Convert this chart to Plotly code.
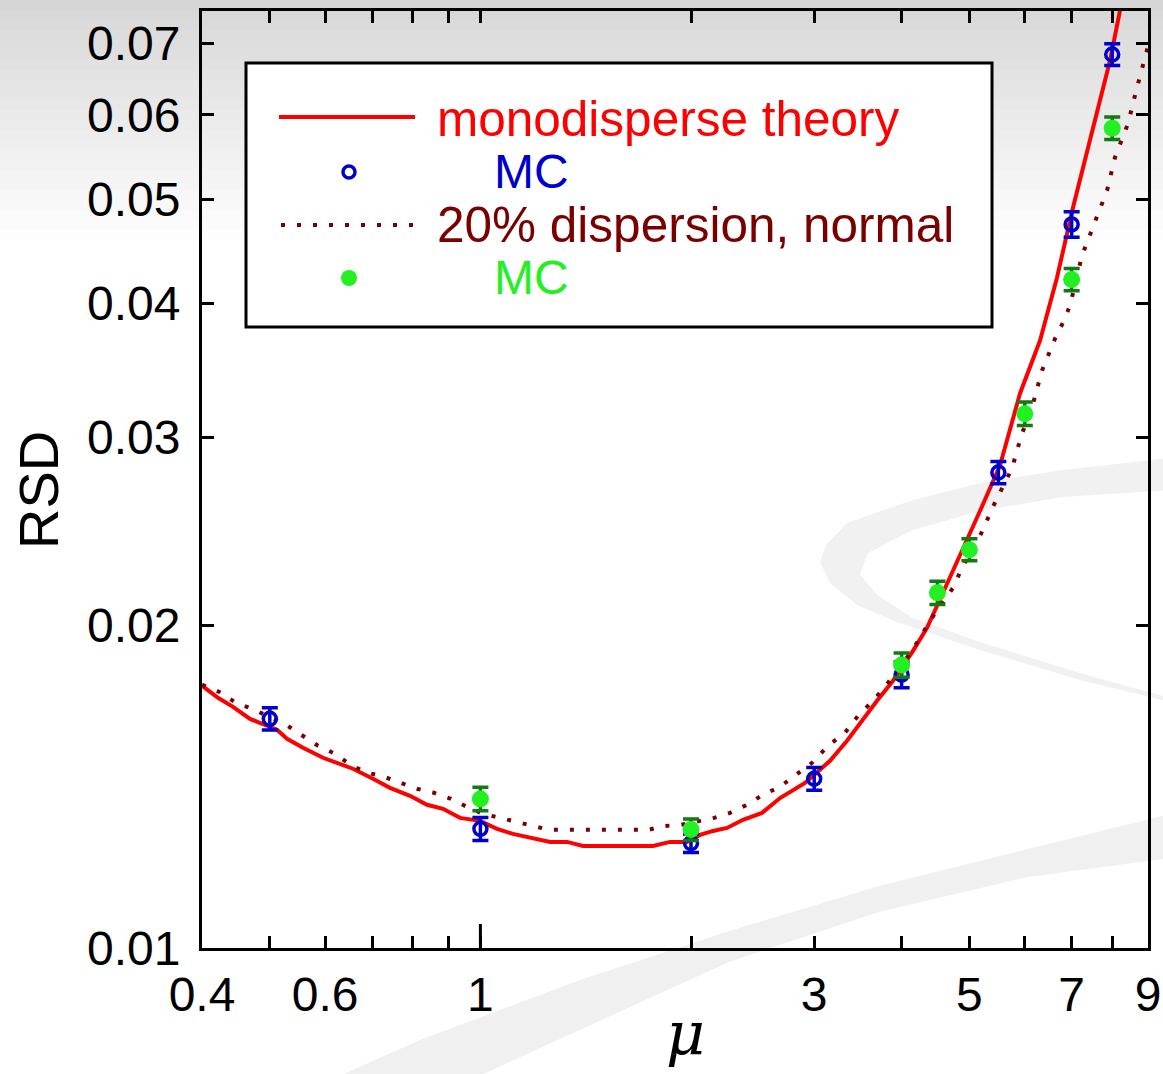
import plotly.graph_objects as go

# ---------------- data ----------------
theory_x = [0.4000, 0.4216, 0.4430, 0.4685, 0.4954, 0.5120, 0.5292, 0.5577, 0.5958, 0.6300,
            0.6574, 0.7022, 0.7426, 0.7932, 0.8388, 0.8842, 0.9351, 0.9988, 1.0563, 1.1129,
            1.1774, 1.2575, 1.3298, 1.4016, 1.7653, 1.8666, 1.9739, 2.0600, 2.1502, 2.2516,
            2.3736, 2.5267, 2.6809, 2.9106, 3.1606, 3.3424, 3.6890, 3.8883, 4.1528, 4.3488,
            4.6452, 4.9616, 5.1788, 5.5288, 5.9056, 6.3080, 6.6712, 7.0316, 7.4364, 7.9440, 8.2080]
theory_y = [0.017579, 0.017128, 0.016797, 0.016368, 0.016128, 0.015988, 0.015680, 0.015381, 0.015054, 0.014859,
            0.014703, 0.014388, 0.014112, 0.013873, 0.013606, 0.013489, 0.013229, 0.013144, 0.012919, 0.012781,
            0.012672, 0.012563, 0.012563, 0.012455, 0.012455, 0.012563, 0.012563, 0.012754, 0.012863, 0.012946,
            0.013175, 0.013372, 0.013806, 0.014261, 0.014958, 0.015615, 0.017018, 0.017767, 0.018946, 0.019909,
            0.021887, 0.024015, 0.025606, 0.028216, 0.032951, 0.036924, 0.042291, 0.049158, 0.056781, 0.067453, 0.075093]

disp_x = [0.4000, 0.4230, 0.4474, 0.4716, 0.5273, 0.5560, 0.5859, 0.6197, 0.6553, 0.6907,
          0.7280, 0.7699, 0.8117, 0.8583, 0.9080, 0.9569, 1.0087, 1.0668, 1.1247, 1.1890,
          1.2533, 1.7357, 1.8360, 1.9354, 2.0398, 2.1572, 2.2739, 2.4047, 2.5354, 2.6809,
          2.8253, 2.9786, 3.1400, 3.3194, 3.4655, 3.6649, 3.8252, 4.1396, 4.4212, 4.7376,
          4.8800, 5.1788, 5.4388, 5.7512, 5.9256, 6.1648, 6.3504, 6.6284, 6.8048, 6.9620,
          7.2436, 7.5604, 7.8656, 8.0736, 8.4280, 8.6508, 8.8844, 9.0000]
disp_y = [0.017615, 0.017353, 0.016943, 0.016730, 0.016161, 0.015784, 0.015448, 0.015185, 0.014794, 0.014576,
          0.014451, 0.014261, 0.014083, 0.013962, 0.013781, 0.013545, 0.013342, 0.013229, 0.013117, 0.013002,
          0.012892, 0.012892, 0.013002, 0.013032, 0.013117, 0.013229, 0.013372, 0.013606, 0.013903, 0.014145,
          0.014512, 0.014893, 0.015448, 0.015885, 0.016476, 0.017093, 0.017693, 0.018946, 0.020344, 0.021697,
          0.022651, 0.024266, 0.026061, 0.028035, 0.030034, 0.032234, 0.034619, 0.037085, 0.038380, 0.039811,
          0.044339, 0.047599, 0.050993, 0.054739, 0.058893, 0.063096, 0.067735, 0.069519]

mc_mono_x = [0.5, 1, 2, 3, 4, 5.5, 7, 8]
mc_mono_y = [0.01637, 0.01292, 0.01253, 0.01439, 0.0180, 0.0278, 0.0474, 0.0683]
mc_mono_err = [0.00039, 0.00032, 0.00025, 0.00035, 0.0005, 0.00067, 0.0013, 0.0016]

mc_disp_x = [1, 2, 4, 4.5, 5, 6, 7, 8]
mc_disp_y = [0.01378, 0.0129, 0.01838, 0.02147, 0.02355, 0.03155, 0.0421, 0.0583]
mc_disp_err = [0.00035, 0.0003, 0.00048, 0.00054, 0.00056, 0.0008, 0.001, 0.0014]

x_tickvals = [0.4, 0.5, 0.6, 0.7, 0.8, 0.9, 1, 2, 3, 4, 5, 6, 7, 8, 9]
x_ticktext = ["0.4", "", "0.6", "", "", "", "1", "", "3", "", "5", "", "7", "", "9"]
y_tickvals = [0.01, 0.02, 0.03, 0.04, 0.05, 0.06, 0.07]
y_ticktext = ["0.01", "0.02", "0.03", "0.04", "0.05", "0.06", "0.07"]

legend_labels = ["monodisperse theory", "MC", "20% dispersion, normal", "MC"]

# ---------------- styles ----------------
RED = "#ff0000"
BLUE = "#0000cc"
MAROON = "#7a0000"
GREEN = "#22f022"
DKGREEN = "#117a11"
FONT = "Liberation Sans, Arial, sans-serif"

W, H = 1163, 1074
L, R, T, B = 202, 15, 11, 126
PW, PH = W - L - R, H - T - B


def px(x):
    return (x - L) / PW


def py(y):
    return (H - B - y) / PH


fig = go.Figure()

fig.add_trace(go.Scatter(x=theory_x, y=theory_y, mode="lines",
                         line=dict(color=RED, width=4), showlegend=False))
fig.add_trace(go.Scatter(x=disp_x, y=disp_y, mode="lines",
                         line=dict(color=MAROON, width=4, dash="4px,12px"), showlegend=False))
fig.add_trace(go.Scatter(x=mc_mono_x, y=mc_mono_y, mode="markers",
                         marker=dict(symbol="circle-open", size=13, color=BLUE, line=dict(width=3.5, color=BLUE)),
                         error_y=dict(type="data", array=mc_mono_err, color=BLUE, thickness=3.5, width=8),
                         showlegend=False))
fig.add_trace(go.Scatter(x=mc_disp_x, y=mc_disp_y, mode="markers",
                         marker=dict(symbol="circle", size=17, color=GREEN),
                         error_y=dict(type="data", array=mc_disp_err, color=DKGREEN, thickness=3.5, width=8),
                         showlegend=False))

shapes = []
# background gradient at top
n = 24
for i in range(n):
    y0 = i * 10
    c = int(214 + (255 - 214) * (i / n) ** 0.9)
    shapes.append(dict(type="rect", xref="paper", yref="paper", layer="below",
                       x0=px(-5), x1=px(W + 5), y0=py(y0 - 0.5 if i else -5), y1=py(y0 + 10.5),
                       fillcolor=f"rgb({c},{c},{c})", line=dict(width=0)))


def path_from(points):
    s = "M " + " L ".join(f"{px(a):.4f},{py(b):.4f}" for a, b in points) + " Z"
    return s


upper_outer = [(1170, 458), (1063, 470), (980, 483), (913, 500), (847, 523), (826, 545), (820, 562),
               (830, 583), (857, 605), (897, 622), (980, 650), (1080, 680), (1170, 702)]
upper_inner = [(1170, 698), (1080, 673), (980, 642), (913, 618), (877, 595), (860, 574), (868, 553),
               (913, 530), (980, 511), (1063, 497), (1170, 490)]
shapes.append(dict(type="path", xref="paper", yref="paper", layer="below",
                   path=path_from(upper_outer + upper_inner),
                   fillcolor="rgb(241,241,241)", line=dict(width=0)))
lower_band = [(1170, 814), (1028, 849), (879, 886), (729, 931), (580, 980), (420, 1040), (330, 1080),
              (470, 1080), (729, 962), (879, 912), (1028, 877), (1170, 858)]
shapes.append(dict(type="path", xref="paper", yref="paper", layer="below",
                   path=path_from(lower_band),
                   fillcolor="rgb(240,240,240)", line=dict(width=0)))

# long tick at x=1
shapes.append(dict(type="line", xref="x", yref="paper", x0=1, x1=1, y0=0, y1=24 / PH,
                   line=dict(color="black", width=3)))

# legend box
shapes.append(dict(type="rect", xref="paper", yref="paper", layer="above",
                   x0=px(246), x1=px(992), y0=py(327), y1=py(63),
                   fillcolor="white", line=dict(color="black", width=3)))
shapes.append(dict(type="line", xref="paper", yref="paper", layer="above",
                   x0=px(279), x1=px(415), y0=py(117), y1=py(117), line=dict(color=RED, width=4)))
shapes.append(dict(type="line", xref="paper", yref="paper", layer="above",
                   x0=px(281), x1=px(417), y0=py(225), y1=py(225),
                   line=dict(color=MAROON, width=4, dash="4px,12px")))
shapes.append(dict(type="circle", xref="paper", yref="paper", layer="above",
                   xsizemode="pixel", ysizemode="pixel", xanchor=px(349), yanchor=py(172),
                   x0=-6, x1=6, y0=-6, y1=6, fillcolor="white", line=dict(color=BLUE, width=3.5)))
shapes.append(dict(type="circle", xref="paper", yref="paper", layer="above",
                   xsizemode="pixel", ysizemode="pixel", xanchor=px(349), yanchor=py(278),
                   x0=-8, x1=8, y0=-8, y1=8, fillcolor=GREEN, line=dict(color=GREEN, width=0)))

annotations = [
    dict(text=legend_labels[0], x=px(435), y=py(118), xref="paper", yref="paper", xanchor="left",
         yanchor="middle", showarrow=False, font=dict(family=FONT, size=49.5, color=RED)),
    dict(text=legend_labels[1], x=px(492), y=py(171), xref="paper", yref="paper", xanchor="left",
         yanchor="middle", showarrow=False, font=dict(family=FONT, size=48, color=BLUE)),
    dict(text=legend_labels[2], x=px(435), y=py(225), xref="paper", yref="paper", xanchor="left",
         yanchor="middle", showarrow=False, font=dict(family=FONT, size=49.5, color=MAROON)),
    dict(text=legend_labels[3], x=px(492), y=py(278), xref="paper", yref="paper", xanchor="left",
         yanchor="middle", showarrow=False, font=dict(family=FONT, size=48, color=GREEN)),
    dict(text="RSD", x=px(38), y=py(490), xref="paper", yref="paper", xanchor="center",
         yanchor="middle", textangle=-90, showarrow=False, font=dict(family=FONT, size=56, color="black")),
    dict(text="<i>μ</i>", x=px(685), y=py(1034), xref="paper", yref="paper", xanchor="center",
         yanchor="middle", showarrow=False,
         font=dict(family="DejaVu Serif, Liberation Serif, serif", size=60, color="black")),
]

axis_common = dict(type="log", showgrid=False, zeroline=False, showline=True, linecolor="black",
                   linewidth=3, ticks="inside", ticklen=12, tickwidth=3, tickcolor="black",
                   mirror="ticks", automargin=False, tickfont=dict(family=FONT, size=48, color="black"))

fig.update_layout(
    width=W, height=H,
    margin=dict(l=L, r=R, t=T, b=B, pad=0, autoexpand=False),
    paper_bgcolor="white", plot_bgcolor="rgba(0,0,0,0)",
    showlegend=False,
    shapes=shapes, annotations=annotations,
    xaxis=dict(range=[-0.39794, 0.95424], tickmode="array", tickvals=x_tickvals, ticktext=x_ticktext,
               ticklabelstandoff=2, **axis_common),
    yaxis=dict(range=[-2, -1.12494], tickmode="array", tickvals=y_tickvals, ticktext=y_ticktext,
               ticklabelstandoff=9, **axis_common),
)

fig.write_html("out.html", config={"displayModeBar": False},
               post_script="document.body.style.margin='0';")
